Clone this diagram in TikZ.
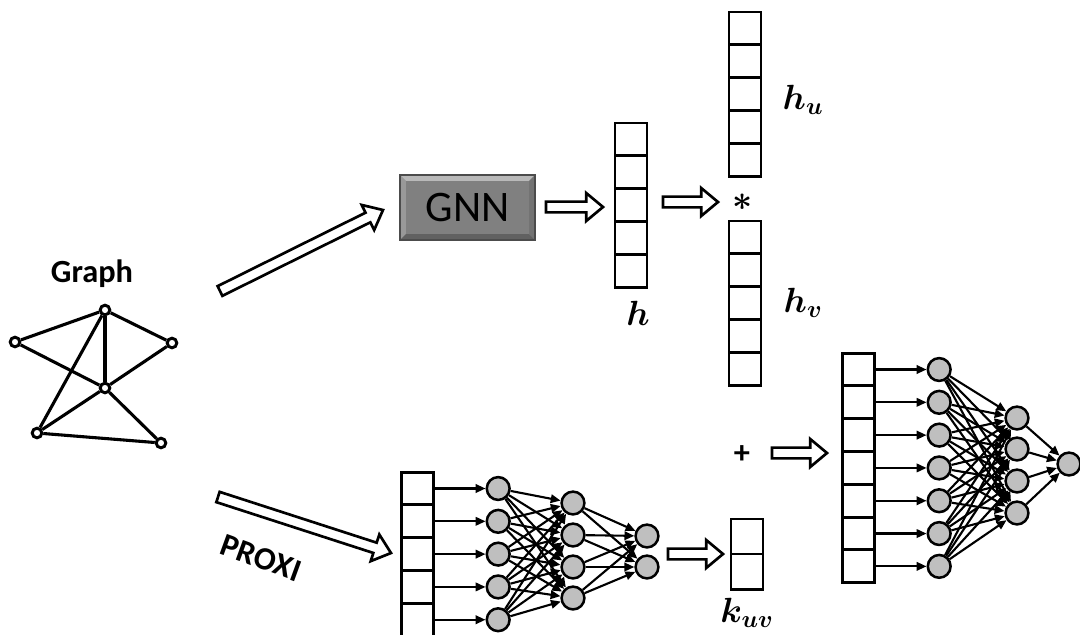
\documentclass[tikz,border=0pt]{standalone}
\usepackage{bm}
\usepackage{fontspec}
\setmainfont{Carlito}
\usetikzlibrary{positioning,calc,arrows.meta}

\newcommand{\cellwidth}{0.8cm}
\newcommand{\cellheight}{0.82cm}
\newcommand{\layergap}{1.3cm}
\newcommand{\shaftw}{0.135cm}
\newcommand{\headw}{0.35cm}
\newcommand{\headlen}{0.42cm}
\tikzstyle{cell}=[fill=white,draw=black,shape=rectangle,line width=2.1pt,
                  minimum width=\cellwidth,minimum height=\cellheight,
                  inner sep=0pt,outer sep=0pt]
\tikzstyle{neuron}=[fill=gray!50,draw=black,shape=circle,line width=1.8pt,
                    minimum size=0.57cm,inner sep=0pt]
\tikzstyle{vertex}=[fill=white,draw=black,shape=circle,line width=2.1pt,
                    minimum size=0.24cm,inner sep=0pt]
\tikzstyle{edge}=[line width=2.2pt]
\tikzstyle{synapse}=[-{Triangle[length=7pt,width=6pt]},line width=1.5pt]
\tikzstyle{hollow}=[fill=white,draw=black,line width=1.9pt,line join=miter]
\tikzstyle{gnnbox}=[fill=gray,draw=black!70,shape=rectangle,line width=0.8pt,
                    minimum width=3.375cm,minimum height=1.625cm,outer sep=0pt,
                    font=\fontsize{31}{36}\selectfont]
\tikzstyle{title}=[font=\fontsize{23}{27}\selectfont\bfseries]
\tikzstyle{vecname}=[font=\fontsize{27}{32}\selectfont]

% hollow block arrow between two coordinates
\newcommand{\blockarrow}[2]{%
  \draw [hollow] let \p1=($(#2)-(#1)$), \n1={atan2(\y1,\x1)},
        \n2={veclen(\x1,\y1)-\headlen} in
    (#1) -- ++(\n1+90:\shaftw) -- ++(\n1:\n2) -- ++(\n1+90:\headw-\shaftw) -- (#2)
    -- ($(#1)+(\n1:\n2)+(\n1-90:\headw)$) -- ++(\n1+90:\headw-\shaftw)
    -- ++(\n1+180:\n2) -- cycle;}

\begin{document}
\begin{tikzpicture}[x=0.025cm,y=-0.025cm]
\useasboundingbox (0,0) rectangle (1080,634);

% input graph
\node [title] (gtitle) at (92,274) {Graph};
\node [vertex] (vt) at (105,310) {};
\node [vertex] (vl) at (15,342) {};
\node [vertex] (vr) at (172,343) {};
\node [vertex] (vc) at (105,388) {};
\node [vertex] (vbl) at (37,433) {};
\node [vertex] (vbr) at (161,443) {};
\draw [edge] (vl) -- (vt) -- (vr);
\draw [edge] (vt) -- (vc);
\draw [edge] (vt) -- (vbl);
\draw [edge] (vl) -- (vc) -- (vbr);
\draw [edge] (vr) -- (vc) -- (vbl) -- (vbr);

% GNN branch
\node [gnnbox] (gnn) at (467.5,207.5) {GNN};
\fill [gray!55] (gnn.north west) -- (gnn.north east) -- ($(gnn.north east)+(-6,6)$)
      -- ($(gnn.north west)+(6,6)$) -- cycle;
\fill [gray!80] (gnn.north west) -- ($(gnn.north west)+(6,6)$)
      -- ($(gnn.south west)+(6,-6)$) -- (gnn.south west) -- cycle;
\fill [black!62] (gnn.south west) -- ($(gnn.south west)+(6,-6)$)
      -- ($(gnn.south east)+(-6,-6)$) -- (gnn.south east) -- cycle;
\fill [black!55] (gnn.north east) -- ($(gnn.north east)+(-6,6)$)
      -- ($(gnn.south east)+(-6,-6)$) -- (gnn.south east) -- cycle;
\draw [black!70, line width=0.8pt] (gnn.north west) rectangle (gnn.south east);

\coordinate (gin) at (220,291);
\coordinate (gout) at (383,210);
\blockarrow{gin}{gout}

\node [cell] (h1) at (631,139.4) {};
\foreach \i [count=\j from 2] in {1,...,4}
  \node [cell, below=0pt of h\i] (h\j) {};
\node [vecname] (hname) at (638,313) {$\bm{h}$};

\coordinate (hin) at (546,207);
\coordinate (hout) at (603,207);
\blockarrow{hin}{hout}

\node [cell] (hu1) at (745,28.4) {};
\foreach \i [count=\j from 2] in {1,...,4}
  \node [cell, below=0pt of hu\i] (hu\j) {};
\node [cell] (hv1) at (745,237.4) {};
\foreach \i [count=\j from 2] in {1,...,4}
  \node [cell, below=0pt of hv\i] (hv\j) {};
\node [vecname] (huname) at (803,100) {$\bm{h}_{\bm{u}}$};
\node [vecname] (hvname) at (803,303) {$\bm{h}_{\bm{v}}$};
\node [font=\fontsize{24}{28}\selectfont] (times) at (743,202) {$\bm{\ast}$};

\coordinate (sin) at (663,202);
\coordinate (sout) at (718,202);
\blockarrow{sin}{sout}

% PROXI branch
\coordinate (pin) at (218,497);
\coordinate (pout) at (391,553);
\blockarrow{pin}{pout}
\node [title, rotate=-20] (proxi) at (261,558) {PROXI};

\node [cell] (p1) at (417.5,488.5) {};
\foreach \i [count=\j from 2] in {1,...,4}
  \node [cell, below=0pt of p\i] (p\j) {};
\foreach \i in {1,...,5} {
  \node [neuron, right=\layergap of p\i] (b1-\i) {};
  \draw [synapse] (p\i.east) -- (b1-\i);
}
\foreach \j/\y in {1/503,2/535,3/567,4/598}
  \node [neuron] (b2-\j) at (573,\y) {};
\node [neuron] (b3-1) at (647,536) {};
\node [neuron] (b3-2) at (647,567) {};
\foreach \i in {1,...,5}
  \foreach \j in {1,...,4}
    \draw [synapse] (b1-\i) -- (b2-\j);
\foreach \i in {1,...,4}
  \foreach \j in {1,2}
    \draw [synapse] (b2-\i) -- (b3-\j);

\coordinate (kin) at (668,554);
\coordinate (kout) at (723,554);
\blockarrow{kin}{kout}
\node [cell, minimum height=0.875cm] (k1) at (747,536.5) {};
\node [cell, minimum height=0.875cm, below=0pt of k1] (k2) {};
\node [vecname] (kname) at (747,613) {$\bm{k}_{\bm{uv}}$};

% combined predictor
\node [title] (plus) at (742,455) {+};
\coordinate (cin) at (772,453);
\coordinate (cout) at (827,453);
\blockarrow{cin}{cout}

\node [cell] (r1) at (858.5,369.5) {};
\foreach \i [count=\j from 2] in {1,...,6}
  \node [cell, below=0pt of r\i] (r\j) {};
\foreach \i in {1,...,7} {
  \node [neuron, right=\layergap of r\i] (c1-\i) {};
  \draw [synapse] (r\i.east) -- (c1-\i);
}
\foreach \j/\y in {1/418,2/449,3/481,4/513}
  \node [neuron] (c2-\j) at (1017,\y) {};
\node [neuron] (c3) at (1069,464) {};
\foreach \i in {1,...,7}
  \foreach \j in {1,...,4}
    \draw [synapse] (c1-\i) -- (c2-\j);
\foreach \j in {1,...,4}
  \draw [synapse] (c2-\j) -- (c3);
\end{tikzpicture}
\end{document}
